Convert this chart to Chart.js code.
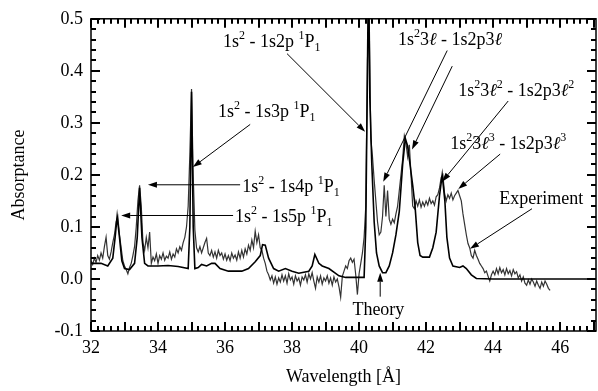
<!DOCTYPE html>
<html lang="en">
<head>
<meta charset="UTF-8" />
<title>Absorptance vs Wavelength</title>
<style>
  html, body { margin: 0; padding: 0; background: #fff; }
  canvas { display: block; }
</style>
</head>
<body>
<canvas id="chart" width="598" height="391"></canvas>
<script src="https://cdn.jsdelivr.net/npm/chart.js"></script>
<script>
// experiment: sampled every 0.05 A starting at 32.00
const expStart = 32.0;
const expStep = 0.05;
const expValues = [
  0.035, 0.028, 0.040, 0.032, 0.045, 0.036, 0.050, 0.040, 0.062, 0.080, 0.045, 0.038, 0.052, 0.070, 0.085, 0.110, 0.120, 0.085, 0.060, 0.035,
  0.025, 0.018, 0.010, 0.022, 0.030, 0.045, 0.062, 0.100, 0.150, 0.180, 0.140, 0.070, 0.055, 0.080, 0.060, 0.090, 0.030, 0.042, 0.035, 0.048,
  0.030, 0.045, 0.038, 0.050, 0.036, 0.044, 0.040, 0.052, 0.038, 0.048, 0.042, 0.058, 0.050, 0.062, 0.055, 0.070, 0.080, 0.100, 0.140, 0.240,
  0.365, 0.200, 0.094, 0.060, 0.052, 0.062, 0.050, 0.060, 0.070, 0.078, 0.050, 0.045, 0.055, 0.042, 0.052, 0.040, 0.055, 0.045, 0.050, 0.038,
  0.048, 0.036, 0.045, 0.035, 0.050, 0.040, 0.046, 0.036, 0.052, 0.040, 0.055, 0.042, 0.058, 0.048, 0.065, 0.055, 0.075, 0.060, 0.092, 0.070,
  0.085, 0.060, 0.055, 0.040, 0.030, 0.015, 0.008, -0.002, 0.006, -0.008, 0.004, -0.010, 0.002, -0.006, 0.008, -0.004, 0.006, -0.008, 0.010, -0.002,
  0.004, -0.010, 0.006, -0.004, 0.002, -0.012, 0.004, -0.002, 0.008, -0.006, 0.010, 0.000, 0.012, -0.004, -0.018, 0.004, -0.006, 0.006, -0.010, 0.002,
  -0.004, 0.006, -0.008, 0.002, -0.012, 0.004, -0.006, 0.000, -0.015, -0.035, 0.005, 0.015, 0.025, 0.020, 0.035, 0.040, 0.032, 0.038, 0.008, -0.030,
  0.010, 0.030, 0.050, 0.080, 0.140, 0.420, 0.520, 0.270, 0.235, 0.190, 0.150, 0.110, 0.085, 0.090, 0.120, 0.180, 0.120, 0.170, 0.115, 0.105,
  0.115, 0.108, 0.125, 0.140, 0.170, 0.200, 0.230, 0.275, 0.260, 0.235, 0.258, 0.200, 0.140, 0.135, 0.150, 0.140, 0.152, 0.138, 0.148, 0.140,
  0.150, 0.142, 0.155, 0.145, 0.150, 0.142, 0.158, 0.162, 0.175, 0.195, 0.200, 0.165, 0.150, 0.162, 0.155, 0.165, 0.152, 0.160, 0.165, 0.170,
  0.160, 0.150, 0.125, 0.105, 0.085, 0.068, 0.060, 0.045, 0.040, 0.055, 0.045, 0.038, 0.030, 0.025, 0.020, 0.012, 0.015, 0.005, -0.004, 0.008,
  0.015, 0.008, 0.020, 0.010, 0.022, 0.012, 0.018, 0.008, 0.020, 0.010, 0.016, 0.006, 0.018, 0.010, 0.014, 0.002, 0.008, -0.004, 0.004, -0.008,
  -0.012, -0.002, -0.010, 0.000, -0.006, -0.014, -0.004, -0.012, -0.018, -0.006, -0.014, -0.004, -0.010, -0.018, -0.022
];

// theory curve
const theoryWl = [
  32.0, 32.3, 32.5, 32.65, 32.72, 32.78, 32.85, 32.92, 33.0, 33.15, 33.3, 33.38, 33.45, 33.52, 33.6, 33.7,
  34.0, 34.3, 34.6, 34.9, 34.95, 35.0, 35.05, 35.1, 35.2, 35.3, 35.45, 35.6, 35.7, 35.85, 36.1, 36.5, 36.7,
  36.9, 37.05, 37.12, 37.2, 37.3, 37.45, 37.6, 37.8, 38.0, 38.2, 38.5, 38.6, 38.68, 38.8, 38.9, 39.1, 39.4,
  39.6, 40.15, 40.2, 40.25, 40.28, 40.32, 40.38, 40.45, 40.52, 40.6, 40.7, 40.8, 40.9, 41.0, 41.1, 41.2,
  41.3, 41.38, 41.45, 41.52, 41.6, 41.67, 41.75, 41.82, 41.9, 42.1, 42.2, 42.3, 42.4, 42.48, 42.56, 42.62,
  42.7, 42.8, 43.0, 43.1, 43.2, 43.35, 43.5, 44.0, 47.1
];
const theoryVal = [
  0.030, 0.030, 0.025, 0.040, 0.080, 0.120, 0.080, 0.035, 0.020, 0.018, 0.030, 0.080, 0.175, 0.080, 0.030, 0.025,
  0.025, 0.026, 0.024, 0.020, 0.100, 0.360, 0.100, 0.020, 0.022, 0.028, 0.025, 0.030, 0.030, 0.020, 0.015, 0.015, 0.020,
  0.033, 0.045, 0.066, 0.065, 0.040, 0.020, 0.015, 0.020, 0.015, 0.011, 0.015, 0.025, 0.047, 0.030, 0.025, 0.020, 0.006,
  0.003, 0.003, 0.100, 0.400, 0.600, 0.350, 0.220, 0.110, 0.050, 0.025, 0.012, 0.012, 0.025, 0.050, 0.085, 0.130,
  0.220, 0.270, 0.255, 0.220, 0.180, 0.140, 0.070, 0.045, 0.042, 0.042, 0.060, 0.090, 0.160, 0.200, 0.150, 0.080,
  0.040, 0.025, 0.022, 0.025, 0.020, 0.008, 0.001, 0.000, 0.000
];

const xTicks = [32, 34, 36, 38, 40, 42, 44, 46];
const yTicks = [-0.1, 0.0, 0.1, 0.2, 0.3, 0.4, 0.5];

// label pieces: [text, mode]  mode: n normal, u superscript, d subscript, i italic
const labels = [
  { at: [35.94, 0.445], parts: [['1s','n'],['2','u'],[' - 1s2p ','n'],['1','u'],['P','n'],['1','d']] },
  { at: [35.79, 0.312], parts: [['1s','n'],['2','u'],[' - 1s3p ','n'],['1','u'],['P','n'],['1','d']] },
  { at: [36.51, 0.168], parts: [['1s','n'],['2','u'],[' - 1s4p ','n'],['1','u'],['P','n'],['1','d']] },
  { at: [36.30, 0.109], parts: [['1s','n'],['2','u'],[' - 1s5p ','n'],['1','u'],['P','n'],['1','d']] },
  { at: [41.16, 0.450], parts: [['1s','n'],['2','u'],['3','n'],['\u2113','i'],[' - 1s2p3','n'],['\u2113','i']] },
  { at: [42.96, 0.352], parts: [['1s','n'],['2','u'],['3','n'],['\u2113','i'],['2','u'],[' - 1s2p3','n'],['\u2113','i'],['2','u']] },
  { at: [42.72, 0.249], parts: [['1s','n'],['2','u'],['3','n'],['\u2113','i'],['3','u'],[' - 1s2p3','n'],['\u2113','i'],['3','u']] },
  { at: [44.18, 0.145], parts: [['Experiment','n']] },
  { at: [39.80, -0.070], parts: [['Theory','n']] }
];
const arrows = [
  { from: [37.85, 0.433], to: [40.18, 0.283] },
  { from: [36.75, 0.297], to: [35.04, 0.215] },
  { from: [36.45, 0.181], to: [33.70, 0.181] },
  { from: [36.24, 0.122], to: [32.90, 0.122] },
  { from: [42.63, 0.439], to: [40.72, 0.187] },
  { from: [42.78, 0.409], to: [41.58, 0.249] },
  { from: [44.45, 0.342], to: [42.48, 0.187] },
  { from: [44.21, 0.240], to: [42.96, 0.173] },
  { from: [45.16, 0.135], to: [43.31, 0.058] },
  { from: [40.63, -0.034], to: [40.63, 0.012] }
];

const SERIF = '"Liberation Serif", "Times New Roman", serif';

const expData = expValues.map((v, i) => ({ x: expStart + i * expStep, y: v }));
const theoryData = theoryWl.map((w, i) => ({ x: w, y: theoryVal[i] }));

// frame, inward ticks, labels and arrows
const decor = {
  id: 'decor',
  afterDraw(chart) {
    const ctx = chart.ctx;
    const xs = chart.scales.x, ys = chart.scales.y;
    const area = chart.chartArea;
    const L = area.left, R = area.right, T = area.top, B = area.bottom;
    ctx.save();
    ctx.strokeStyle = '#000';
    ctx.fillStyle = '#000';
    ctx.lineWidth = 1.5;
    ctx.strokeRect(L, T, R - L, B - T);

    // inward ticks on all four sides
    ctx.beginPath();
    for (let k = 0; k <= 76; k++) {
      const px = Math.round(xs.getPixelForValue(32 + k * 0.2));
      if (px > R) break;
      const len = (k % 5 === 0) ? 9 : 5;
      ctx.moveTo(px, B); ctx.lineTo(px, B - len);
      ctx.moveTo(px, T); ctx.lineTo(px, T + len);
    }
    for (let k = 0; k <= 30; k++) {
      const py = Math.round(ys.getPixelForValue(-0.1 + k * 0.02));
      const len = (k % 5 === 0) ? 9 : 5;
      ctx.moveTo(L, py); ctx.lineTo(L + len, py);
      ctx.moveTo(R, py); ctx.lineTo(R - len, py);
    }
    ctx.lineWidth = 2;
    ctx.stroke();

    // arrows
    ctx.lineWidth = 1;
    arrows.forEach(a => {
      const x1 = xs.getPixelForValue(a.from[0]), y1 = ys.getPixelForValue(a.from[1]);
      const x2 = xs.getPixelForValue(a.to[0]), y2 = ys.getPixelForValue(a.to[1]);
      const ang = Math.atan2(y2 - y1, x2 - x1);
      const c = Math.cos(ang), s = Math.sin(ang);
      const hl = 9, hw = 3;
      ctx.beginPath();
      ctx.moveTo(x1, y1);
      ctx.lineTo(x2 - hl * c, y2 - hl * s);
      ctx.stroke();
      ctx.beginPath();
      ctx.moveTo(x2, y2);
      ctx.lineTo(x2 - hl * c + hw * s, y2 - hl * s - hw * c);
      ctx.lineTo(x2 - hl * c - hw * s, y2 - hl * s + hw * c);
      ctx.closePath();
      ctx.fill();
    });

    // labels
    ctx.textBaseline = 'alphabetic';
    ctx.textAlign = 'left';
    labels.forEach(l => {
      let x = xs.getPixelForValue(l.at[0]);
      const y = ys.getPixelForValue(l.at[1]);
      l.parts.forEach(([t, m]) => {
        let size = 18, dy = 0, style = '';
        if (m === 'u') { size = 12; dy = -8; }
        if (m === 'd') { size = 12; dy = 4; }
        if (m === 'i') style = 'italic ';
        ctx.font = style + size + 'px ' + SERIF;
        ctx.fillText(t, x, y + dy);
        x += ctx.measureText(t).width;
      });
    });
    ctx.restore();
  }
};

new Chart(document.getElementById('chart'), {
  type: 'line',
  data: {
    datasets: [
      {
        label: 'Theory',
        data: theoryData,
        borderColor: '#000',
        borderWidth: 1.6,
        pointRadius: 0,
        tension: 0
      },
      {
        label: 'Experiment',
        data: expData,
        borderColor: '#333',
        borderWidth: 1.2,
        pointRadius: 0,
        tension: 0
      }
    ]
  },
  options: {
    responsive: false,
    animation: false,
    devicePixelRatio: 1,
    layout: { padding: { top: 15, right: 2, left: 0, bottom: 0 } },
    plugins: { legend: { display: false }, tooltip: { enabled: false } },
    scales: {
      x: {
        type: 'linear',
        min: 32,
        max: 47.07,
        grid: { display: false, drawTicks: false },
        border: { display: false },
        afterBuildTicks: s => { s.ticks = xTicks.map(v => ({ value: v })); },
        afterFit: s => { s.height = 60; },
        ticks: { color: '#000', font: { family: SERIF, size: 18 }, padding: 6, maxRotation: 0 },
        title: { display: true, text: 'Wavelength [Å]', color: '#000', font: { family: SERIF, size: 18 }, padding: { top: 0, bottom: 3 } }
      },
      y: {
        min: -0.1,
        max: 0.5,
        grid: { display: false, drawTicks: false },
        border: { display: false },
        afterBuildTicks: s => { s.ticks = yTicks.map(v => ({ value: v })); },
        afterFit: s => { s.width = 91; },
        ticks: { color: '#000', font: { family: SERIF, size: 18 }, padding: 8, callback: v => v.toFixed(1) },
        title: { display: true, text: 'Absorptance', color: '#000', font: { family: SERIF, size: 18 }, padding: { top: 8, bottom: 0 } }
      }
    }
  },
  plugins: [decor]
});
</script>
</body>
</html>
